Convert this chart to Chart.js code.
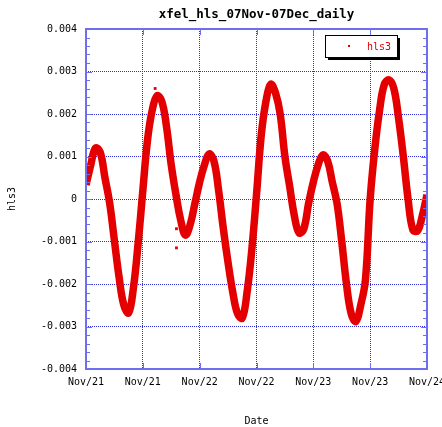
<!DOCTYPE html>
<html>
<head>
<meta charset="utf-8">
<title>xfel_hls_07Nov-07Dec_daily</title>
<script src="https://cdn.jsdelivr.net/npm/chart.js@4.4.1/dist/chart.umd.min.js"></script>
<style>
  html, body { margin: 0; padding: 0; background: #fff; }
  #wrap { width: 442px; height: 427px; }
</style>
</head>
<body>
<div id="wrap"><canvas id="hlsChart" width="442" height="427"></canvas></div>
<script>
// hls3 readings, one per hour from Nov/21 00:00 to Nov/24 00:00
const hls3Values = [
  0.00033, 0.0008, 0.0012, 0.0011, 0.0005, -0.0001, -0.00098, -0.00185, -0.0025, -0.00268,
  -0.0021, -0.00105, 0.0002, 0.0014, 0.0021, 0.00243, 0.0023, 0.0017, 0.0008, 0.0001,
  -0.0005, -0.00085, -0.0006, -0.0001, 0.0004, 0.0008, 0.00106, 0.0009, 0.0002, -0.0007,
  -0.0015, -0.0022, -0.0027, -0.0028, -0.0022, -0.0012, 0.0001, 0.0015, 0.0023, 0.0027,
  0.0025, 0.002, 0.001, 0.0003, -0.0004, -0.0008, -0.0007, -0.0001, 0.0004, 0.0008,
  0.00104, 0.0009, 0.0004, -0.0001, -0.001, -0.002, -0.0027, -0.00288, -0.0025, -0.0019,
  0.0, 0.0012, 0.0021, 0.0027, 0.0028, 0.0026, 0.0019, 0.001, 0.0, -0.00072,
  -0.00075, -0.0004, 0.0001,
];

// a few stray readings away from the main band
const strayHours = [14.6, 19.1, 19.1];
const strayValues = [0.0026, -0.0007, -0.00115];

// x ticks every 12 hours
const xTickHours = [0, 12, 24, 36, 48, 60, 72];
const xTickLabels = ["Nov/21", "Nov/21", "Nov/22", "Nov/22", "Nov/23", "Nov/23", "Nov/24"];

const yTickValues = [0.004, 0.003, 0.002, 0.001, 0, -0.001, -0.002, -0.003, -0.004];
const yTickLabels = ["0.004", "0.003", "0.002", "0.001", "0", "-0.001", "-0.002", "-0.003", "-0.004"];

const RED = "rgb(228,0,0)";
const GRID_BLUE = "rgb(45,45,230)";
const FRAME_BLUE = "rgb(110,110,240)";
const MONO = "'DejaVu Sans Mono', monospace";

const hlsPoints = hls3Values.map((v, i) => ({ x: i, y: v }));
const strayPoints = strayHours.map((h, i) => ({ x: h, y: strayValues[i] }));

// frame, inward ticks, title and the boxed legend
const decorations = {
  id: "decorations",
  afterDraw(chart) {
    const { ctx, chartArea: a, scales } = chart;
    const ys = scales.y, xs = scales.x;
    ctx.save();

    // minor ticks on left/right every 0.0002
    ctx.strokeStyle = FRAME_BLUE;
    ctx.lineWidth = 1;
    for (let k = -20; k <= 20; k++) {
      const py = Math.round(ys.getPixelForValue(k * 0.0002)) + 0.5;
      const len = k % 5 === 0 ? 6 : 4;
      ctx.beginPath();
      ctx.moveTo(a.left, py); ctx.lineTo(a.left + len, py);
      ctx.moveTo(a.right, py); ctx.lineTo(a.right - len, py);
      ctx.stroke();
    }
    // major ticks on top/bottom
    xTickHours.forEach((h) => {
      const px = Math.round(xs.getPixelForValue(h)) + 0.5;
      ctx.beginPath();
      ctx.moveTo(px, a.bottom); ctx.lineTo(px, a.bottom - 6);
      ctx.moveTo(px, a.top); ctx.lineTo(px, a.top + 6);
      ctx.stroke();
    });

    // plot frame
    ctx.lineWidth = 2;
    ctx.strokeStyle = FRAME_BLUE;
    ctx.strokeRect(a.left, a.top, a.right - a.left, a.bottom - a.top);

    // title
    ctx.fillStyle = "#000";
    ctx.font = "bold 12.5px " + MONO;
    ctx.textAlign = "center";
    ctx.textBaseline = "middle";
    ctx.fillText("xfel_hls_07Nov-07Dec_daily", (a.left + a.right) / 2, 15);

    // legend box with drop shadow
    const lx = 325, ly = 35, lw = 72, lh = 22;
    ctx.fillStyle = "#000";
    ctx.fillRect(lx + 3, ly + 3, lw, lh);
    ctx.fillStyle = "#fff";
    ctx.fillRect(lx, ly, lw, lh);
    ctx.lineWidth = 1;
    ctx.strokeStyle = "#000";
    ctx.strokeRect(lx + 0.5, ly + 0.5, lw, lh);
    ctx.fillStyle = RED;
    ctx.fillRect(348, 45, 2, 2);
    ctx.font = "10px " + MONO;
    ctx.textAlign = "left";
    ctx.fillText(chart.data.datasets[0].label, 367, 47);

    ctx.restore();
  },
};

new Chart(document.getElementById("hlsChart"), {
  type: "line",
  data: {
    datasets: [
      {
        label: "hls3",
        data: hlsPoints,
        borderColor: RED,
        backgroundColor: RED,
        borderWidth: 7.5,
        tension: 0.4,
        pointRadius: 0,
        fill: false,
      },
      {
        label: "stray",
        data: strayPoints,
        showLine: false,
        pointStyle: "rect",
        pointRadius: 2,
        backgroundColor: RED,
        borderColor: RED,
        borderWidth: 0,
      },
    ],
  },
  options: {
    responsive: false,
    animation: false,
    layout: { padding: { top: 29, right: 15, left: 0, bottom: 0 } },
    plugins: {
      legend: { display: false },
      title: { display: false },
      tooltip: { enabled: false },
    },
    scales: {
      x: {
        type: "linear",
        min: 0,
        max: 72,
        afterBuildTicks: (s) => { s.ticks = xTickHours.map((v) => ({ value: v })); },
        afterFit: (s) => {
          s.height = 58;
          // let the end labels hang past the plot edges
          s.paddingLeft = 0;
          s.paddingRight = 0;
        },
        ticks: {
          padding: 7,
          color: "#000",
          font: { family: MONO, size: 10 },
          maxRotation: 0,
          callback: (v) => xTickLabels[xTickHours.indexOf(v)],
        },
        grid: { color: GRID_BLUE, lineWidth: 1, drawTicks: false },
        border: { display: false, dash: [1, 1] },
        title: {
          display: true,
          text: "Date",
          color: "#000",
          font: { family: MONO, size: 10 },
          padding: { top: 0, bottom: 0 },
        },
      },
      y: {
        min: -0.004,
        max: 0.004,
        afterBuildTicks: (s) => { s.ticks = yTickValues.map((v) => ({ value: v })); },
        afterFit: (s) => { s.width = 86; },
        ticks: {
          padding: 9,
          color: "#000",
          font: { family: MONO, size: 10 },
          callback: (v) => yTickLabels[yTickValues.indexOf(v)],
        },
        grid: { color: GRID_BLUE, lineWidth: 1, drawTicks: false },
        border: { display: false, dash: [1, 1] },
        title: {
          display: true,
          text: "hls3",
          color: "#000",
          font: { family: MONO, size: 10 },
          padding: { top: 6, bottom: 0 },
        },
      },
    },
  },
  plugins: [decorations],
});
</script>
</body>
</html>
